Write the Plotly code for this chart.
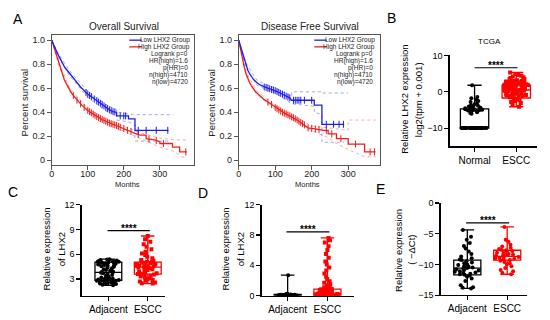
import numpy as np
import plotly.graph_objects as go

W, H = 550, 320
def px(x): return x / W
def py(y): return 1 - y / H

FONT = "Liberation Sans, Arial, sans-serif"
BLUE = "rgb(30,30,235)"
RED = "rgb(238,30,30)"
BLUE_CI = "rgba(90,90,235,0.55)"
RED_CI = "rgba(238,70,70,0.45)"
PR_RED = "rgb(255,0,0)"

# ---------------- Panel A : Kaplan-Meier data ----------------
os_low_t = [0,5,10,15,20,25,30,35,40,45,50,55,60,65,70,75,80,85,90,95,100,110,120,130,140,150,160,170,180,180,213,213,231,231,324]
os_low_s = [1.0,0.97,0.93,0.895,0.865,0.835,0.805,0.78,0.76,0.74,0.72,0.70,0.68,0.665,0.65,0.63,0.61,0.595,0.58,0.565,0.55,0.53,0.505,0.485,0.465,0.44,0.42,0.405,0.40,0.37,0.37,0.345,0.345,0.25,0.25]
os_low_up_t = [0,20,50,100,150,180,180,231,337]
os_low_up_s = [1.0,0.88,0.745,0.575,0.465,0.42,0.40,0.38,0.38]
os_low_lo_t = [0,20,50,100,150,180,180,213,231,231,324]
os_low_lo_s = [1.0,0.85,0.70,0.525,0.41,0.385,0.335,0.32,0.30,0.16,0.16]
os_low_cens = [95,100,105,110,118,125,130,135,140,145,150,155,160,165,170,175,190,200,205,240,262,290,322]

os_high_t = [0,5,10,15,20,25,30,35,40,45,50,55,60,65,70,75,80,85,90,95,100,110,120,130,140,150,160,170,180,190,200,210,220,230,245,262,262,285,300,300,335,335,355,355,375]
os_high_s = [1.0,0.95,0.90,0.85,0.80,0.755,0.71,0.67,0.64,0.61,0.585,0.56,0.54,0.52,0.50,0.485,0.47,0.455,0.44,0.43,0.415,0.395,0.375,0.355,0.34,0.325,0.31,0.30,0.29,0.275,0.265,0.25,0.24,0.225,0.21,0.21,0.18,0.17,0.155,0.14,0.14,0.11,0.11,0.07,0.07]
os_high_up_t = [0,20,50,100,150,200,250,300,340,380]
os_high_up_s = [1.0,0.815,0.60,0.43,0.34,0.285,0.225,0.185,0.17,0.17]
os_high_lo_t = [0,20,50,100,150,200,250,300,340,360,375]
os_high_lo_s = [1.0,0.785,0.57,0.40,0.31,0.245,0.175,0.11,0.075,0.03,0.02]
os_high_cens = [60,70,80,90,100,105,110,115,120,125,130,135,140,145,150,155,160,165,170,175,180,185,190,200,210,220,240,270,290,310,372]

dfs_low_t = [0,5,10,15,20,25,30,35,40,45,50,60,70,80,90,100,110,120,130,140,145,207,207,228,228,289]
dfs_low_s = [1.0,0.95,0.88,0.83,0.79,0.75,0.72,0.695,0.675,0.66,0.645,0.625,0.61,0.60,0.59,0.58,0.565,0.55,0.535,0.52,0.50,0.50,0.46,0.46,0.30,0.30]
dfs_low_up_t = [0,20,50,100,145,145,228,228,300]
dfs_low_up_s = [1.0,0.81,0.665,0.60,0.53,0.57,0.57,0.56,0.56]
dfs_low_lo_t = [0,20,50,100,145,207,207,228,228,289]
dfs_low_lo_s = [1.0,0.77,0.625,0.56,0.47,0.45,0.40,0.38,0.15,0.15]
dfs_low_cens = [70,75,80,85,90,95,100,105,110,115,120,125,130,135,140,150,155,160,165,170,180,200,240,260,275,287]

dfs_high_t = [0,5,10,15,20,25,30,35,40,45,50,60,70,80,90,100,110,120,130,140,150,160,170,180,190,214,232,245,245,268,268,300,300,345,345,375]
dfs_high_s = [1.0,0.92,0.85,0.78,0.72,0.68,0.645,0.62,0.595,0.575,0.56,0.53,0.505,0.485,0.465,0.44,0.42,0.40,0.385,0.37,0.355,0.335,0.315,0.295,0.27,0.26,0.25,0.25,0.22,0.22,0.18,0.18,0.135,0.135,0.07,0.07]
dfs_high_up_t = [0,20,50,100,150,200,245,268,300,300,375]
dfs_high_up_s = [1.0,0.735,0.575,0.455,0.37,0.285,0.27,0.26,0.25,0.335,0.335]
dfs_high_lo_t = [0,20,50,100,150,200,245,268,300,345,375]
dfs_high_lo_s = [1.0,0.705,0.545,0.425,0.34,0.245,0.19,0.14,0.09,0.03,0.03]
dfs_high_cens = [80,90,100,105,110,115,120,125,130,135,140,145,150,155,160,165,170,175,180,190,200,210,220,240,255,280,320,360,372]

km_stats = ["Logrank p=0", "HR(high)=1.6", "p(HR)=0", "n(high)=4710", "n(low)=4720"]

# ---------------- Panel B : TCGA ----------------
b_cats = ["Normal", "ESCC"]
b_normal = [-9.97]*28 + [-6.0,-5.8,-5.6,-5.5,-5.4,-5.3,-5.2,-5.1,-5.0,-5.0,-4.9,-4.8,-4.8,-4.7,-4.6,-4.5,-4.4,-4.3,-4.2,-4.0,-3.8,-3.6,-3.4,-3.1,-2.8,-2.5,-2.2,-1.8,-1.4,1.8]
b_escc = [5.3,4.9,4.6,4.4,4.2,4.0,3.8,3.6,3.5,3.3,3.2,3.0,2.9,2.8,2.7,2.6,2.5,2.4,2.3,2.2,2.1,2.0,1.9,1.8,1.7,1.6,1.5,1.4,1.3,1.2,1.1,1.0,0.9,0.8,0.7,0.6,0.5,0.4,0.3,0.2,0.1,0.0,-0.1,-0.2,-0.3,-0.4,-0.5,-0.6,-0.7,-0.8,-0.9,-1.0,-1.1,-1.2,-1.4,-1.5,-1.7,-1.9,-2.1,-2.3,-2.5,-2.8,-3.1,-3.5,-4.1,
          1.5,1.0,0.5,0.0,2.0,2.5,-0.5,1.2,0.8,0.3,3.0,-1.0,1.8,2.2,0.6]
b_stats_normal = dict(q1=-9.97, med=-9.97, q3=-4.7, lo=-9.97, hi=1.8)
b_stats_escc = dict(q1=-1.7, med=0.5, q3=1.8, lo=-4.1, hi=5.3)

# ---------------- Panel C ----------------
cde_cats = ["Adjacent", "ESCC"]
c_adj = [2.25,2.3,2.4,2.45,2.5,2.55,2.6,2.6,2.65,2.7,2.7,2.75,2.8,2.8,2.85,2.9,2.9,2.95,3.0,3.0,3.05,3.1,3.15,3.2,3.3,3.4,3.5,3.6,3.7,3.75,3.8,3.85,3.9,4.0,4.1,4.2,4.3,4.4,4.5,4.55,4.6,4.65,4.7,4.75,4.8,4.85,4.9,4.9,4.95,5.0,5.0,5.05,5.1,5.1,5.15,5.2,5.25,5.3,5.35,5.4]
c_esc = [2.45,2.5,2.6,2.7,2.8,2.9,3.0,3.1,3.2,3.3,3.4,3.5,3.55,3.6,3.65,3.7,3.8,3.9,4.0,4.1,4.2,4.3,4.35,4.4,4.45,4.5,4.55,4.6,4.65,4.7,4.75,4.8,4.85,4.9,4.95,5.0,5.05,5.1,5.2,5.3,5.5,5.7,5.9,6.1,6.3,6.6,6.9,7.2,7.5,7.8,8.2]
c_stats_adj = dict(q1=2.85, med=3.8, q3=5.05, lo=2.25, hi=5.4)
c_stats_esc = dict(q1=3.6, med=4.45, q3=5.05, lo=2.45, hi=8.2)

# ---------------- Panel D ----------------
d_adj = [0.0,0.0,0.01,0.01,0.02,0.02,0.03,0.03,0.04,0.05,0.05,0.06,0.07,0.08,0.09,0.1,0.11,0.12,0.13,0.14,0.15,0.16,0.18,0.2,0.22,0.25,2.7]
d_esc = [0.0,0.01,0.02,0.03,0.04,0.05,0.06,0.07,0.08,0.1,0.12,0.14,0.16,0.18,0.2,0.22,0.25,0.28,0.3,0.33,0.36,0.4,0.44,0.48,0.52,0.56,0.6,0.65,0.7,0.75,0.8,0.85,0.9,0.95,1.0,1.1,1.2,1.35,1.5,1.7,1.9,2.2,2.5,2.9,3.3,3.7,4.1,4.5,5.0,5.5,6.0,6.5,7.0,7.3,7.6]
d_stats_adj = dict(q1=0.0, med=0.05, q3=0.15, lo=0.0, hi=2.7)
d_stats_esc = dict(q1=0.05, med=0.25, q3=0.85, lo=0.0, hi=7.6)

# ---------------- Panel E ----------------
e_adj = [-4.4,-5.5,-6.0,-6.5,-7.0,-7.4,-7.9,-8.3,-8.7,-9.0,-9.2,-9.3,-9.5,-9.7,-9.8,-10.0,-10.1,-10.3,-10.4,-10.5,-10.6,-10.7,-10.8,-10.9,-11.0,-11.1,-11.2,-11.3,-11.4,-11.5,-11.6,-11.7,-11.8,-12.0,-12.3,-12.7,-13.4,-13.7,-13.8,-13.9]
e_esc = [-3.9,-6.0,-6.3,-6.8,-7.1,-7.3,-7.5,-7.6,-7.7,-7.8,-7.9,-8.0,-8.1,-8.2,-8.3,-8.4,-8.5,-8.6,-8.6,-8.7,-8.8,-8.9,-9.0,-9.1,-9.2,-9.3,-9.4,-9.6,-9.8,-10.0,-10.3,-10.6,-10.9,-11.1,-11.4,-11.6]
e_stats_adj = dict(q1=-11.7, med=-10.6, q3=-9.3, lo=-13.9, hi=-4.4)
e_stats_esc = dict(q1=-9.3, med=-8.7, q3=-7.7, lo=-11.6, hi=-3.9)

fig = go.Figure()

def km(t, s, color, xa, ya, dash=None, width=1.3):
    fig.add_trace(go.Scatter(x=t, y=s, mode="lines", line=dict(color=color, width=width, dash=dash),
                             xaxis=xa, yaxis=ya, showlegend=False, hoverinfo="skip"))

def cens(ts, ss, c, color, xa, ya):
    fig.add_trace(go.Scatter(x=c, y=np.interp(c, ts, ss), mode="markers",
                             marker=dict(symbol="line-ns", size=5, line=dict(color=color, width=1)),
                             xaxis=xa, yaxis=ya, showlegend=False, hoverinfo="skip"))

for xa, ya, lt, ls, lut, lus, llt, lls, lc, ht, hs, hut, hus, hlt, hls, hc in [
    ("x", "y", os_low_t, os_low_s, os_low_up_t, os_low_up_s, os_low_lo_t, os_low_lo_s, os_low_cens,
     os_high_t, os_high_s, os_high_up_t, os_high_up_s, os_high_lo_t, os_high_lo_s, os_high_cens),
    ("x2", "y2", dfs_low_t, dfs_low_s, dfs_low_up_t, dfs_low_up_s, dfs_low_lo_t, dfs_low_lo_s, dfs_low_cens,
     dfs_high_t, dfs_high_s, dfs_high_up_t, dfs_high_up_s, dfs_high_lo_t, dfs_high_lo_s, dfs_high_cens)]:
    km(hut, hus, RED_CI, xa, ya, "dot", 1)
    km(hlt, hls, RED_CI, xa, ya, "dot", 1)
    km(lut, lus, BLUE_CI, xa, ya, "dot", 1)
    km(llt, lls, BLUE_CI, xa, ya, "dot", 1)
    km(ht, hs, RED, xa, ya)
    km(lt, ls, BLUE, xa, ya)
    cens(ht, hs, hc, RED, xa, ya)
    cens(lt, ls, lc, BLUE, xa, ya)

BOXW = 0.68
def box_panel(xa, ya, groups):
    for i, (vals, st, color, sym) in enumerate(groups):
        fig.add_trace(go.Box(x=[i], q1=[st["q1"]], median=[st["med"]], q3=[st["q3"]],
                             lowerfence=[st["lo"]], upperfence=[st["hi"]], width=BOXW,
                             line=dict(color=color, width=1.3), fillcolor="rgba(0,0,0,0)",
                             whiskerwidth=0.5, boxpoints=False, xaxis=xa, yaxis=ya,
                             showlegend=False, hoverinfo="skip"))
    for i, (vals, st, color, sym) in enumerate(groups):
        fig.add_trace(go.Box(x=[i] * len(vals), y=vals, boxpoints="all", jitter=0.95, pointpos=0,
                             width=BOXW, line=dict(color="rgba(0,0,0,0)", width=0),
                             fillcolor="rgba(0,0,0,0)", marker=dict(color=color, size=4, symbol=sym),
                             xaxis=xa, yaxis=ya, showlegend=False, hoverinfo="skip"))

box_panel("x3", "y3", [(b_normal, b_stats_normal, "black", "circle"), (b_escc, b_stats_escc, PR_RED, "square")])
box_panel("x4", "y4", [(c_adj, c_stats_adj, "black", "circle"), (c_esc, c_stats_esc, PR_RED, "square")])
box_panel("x5", "y5", [(d_adj, d_stats_adj, "black", "circle"), (d_esc, d_stats_esc, PR_RED, "square")])
box_panel("x6", "y6", [(e_adj, e_stats_adj, "black", "circle"), (e_esc, e_stats_esc, PR_RED, "circle")])

# ---------------- axes ----------------
km_ax = dict(showline=True, mirror=True, linecolor="#555", linewidth=1, ticks="outside", ticklen=4,
             tickcolor="#555", showgrid=False, zeroline=False, tickfont=dict(family=FONT, size=9, color="#222"))
km_x = dict(km_ax, tickvals=[0, 100, 200, 300], ticklabelstandoff=-3)
km_y = dict(km_ax, range=[-0.035, 1.04], tickvals=[0, 0.2, 0.4, 0.6, 0.8, 1.0],
            ticktext=["0", "0.2", "0.4", "0.6", "0.8", "1.0"])
pr_ax = dict(showline=True, linecolor="black", linewidth=1.2, ticks="outside", ticklen=4, tickwidth=1.2,
             tickcolor="black", showgrid=False, zeroline=False, tickfont=dict(family=FONT, size=9, color="black"))
pr_x = dict(pr_ax, tickvals=[0, 1], tickfont=dict(family=FONT, size=10, color="black"))

fig.update_layout(
    width=W, height=H, margin=dict(l=0, r=0, t=0, b=0), paper_bgcolor="white", plot_bgcolor="white",
    boxmode="overlay", showlegend=False,
    xaxis=dict(km_x, domain=[px(49), px(192.5)], range=[0, 396], anchor="y"),
    yaxis=dict(km_y, domain=[py(164.7), py(31.3)], anchor="x"),
    xaxis2=dict(km_x, domain=[px(237), px(379)], range=[0, 387], anchor="y2"),
    yaxis2=dict(km_y, domain=[py(164.7), py(31.3)], anchor="x2"),
    xaxis3=dict(pr_x, domain=[px(449), px(537)], range=[-0.6, 1.5], ticktext=b_cats, anchor="y3"),
    yaxis3=dict(pr_ax, domain=[py(146), py(52)], range=[-15, 10], tickvals=[-10, 0, 10], anchor="x3"),
    xaxis4=dict(pr_x, domain=[px(79), px(163)], range=[-0.68, 1.44], ticktext=cde_cats, anchor="y4"),
    yaxis4=dict(pr_ax, domain=[py(300), py(206)], range=[1, 12], tickvals=[3, 6, 9, 12], anchor="x4"),
    xaxis5=dict(pr_x, domain=[px(260), px(353)], range=[-0.655, 1.67], ticktext=cde_cats, anchor="y5"),
    yaxis5=dict(pr_ax, domain=[py(300), py(206)], range=[0, 12], tickvals=[0, 4, 8, 12], anchor="x5"),
    xaxis6=dict(pr_x, domain=[px(440), px(527)], range=[-0.67, 1.5], ticktext=cde_cats, anchor="y6"),
    yaxis6=dict(pr_ax, domain=[py(299.5), py(204.3)], range=[-15, 0], tickvals=[-15, -10, -5, 0], anchor="x6"),
)

ann = []
def text(x, y, s, size, color="black", angle=0, xanchor="center", yanchor="middle", family=FONT):
    ann.append(dict(x=px(x), y=py(y), xref="paper", yref="paper", text=s, showarrow=False, textangle=angle,
                    xanchor=xanchor, yanchor=yanchor, font=dict(family=family, size=size, color=color)))

# panel letters
for L, x, y in [("A", 14.7, 14.2), ("B", 390.3, 13.8), ("C", 10, 193), ("D", 201, 194), ("E", 380, 190)]:
    text(x, y, L, 14)

# KM titles/labels
text(122, 22, "Overall Survival", 10, "#222")
text(309, 22.3, "Disease Free Survival", 10, "#222")
text(21.7, 101, "Percent survival", 9.5, "#222", angle=-90)
text(210, 101, "Percent survival", 9.5, "#222", angle=-90)
text(125.5, 185, "Months", 7.5, "#222")
text(306, 185, "Months", 7.5, "#222")

shapes = []
for off in [0, 186]:
    for j, (lbl, col) in enumerate([("Low LHX2 Group", BLUE), ("High LHX2 Group", RED)]):
        yy = 36.3 + j * 6.9
        shapes.append(dict(type="line", xref="paper", yref="paper", x0=px(127 + off), x1=px(139.5 + off),
                           y0=py(yy), y1=py(yy), line=dict(color=col, width=1.3)))
        text(190.5 + off, yy, lbl, 6.5, "#222", xanchor="right")
    for j, s in enumerate(km_stats):
        text(188.5 + off, 50.7 + j * 7.1, s, 6.5, "#222", xanchor="right")

# Prism titles
text(489, 38, "TCGA", 8)
text(403.5, 97.5, "Relative LHX2 expression", 9.5, angle=-90)
text(418, 97.5, "log2(tpm + 0.001)", 9.5, angle=-90)
for xc in [43.5, 223.5]:
    text(xc, 252, "Relative expression", 9.5, angle=-90)
    text(xc + 15, 252, "of LHX2", 9.5, angle=-90)
text(397, 253, "Relative expression", 9.5, angle=-90)
text(410, 253, "( \u2212\u0394Ct)", 9.5, angle=-90)

# significance bars
for xa, ya, x0, x1, yv in [("x3", "y3", 0.0, 1.03, 6.6), ("x4", "y4", -0.02, 1.05, 8.85),
                           ("x5", "y5", -0.03, 1.05, 8.4), ("x6", "y6", -0.03, 1.05, -3.25)]:
    shapes.append(dict(type="line", xref=xa, yref=ya, x0=x0, x1=x1, y0=yv, y1=yv,
                       line=dict(color="black", width=1.2)))
    ann.append(dict(x=(x0 + x1) / 2, y=yv, xref=xa, yref=ya, text="<b>****</b>", showarrow=False,
                    yanchor="bottom", yshift=-5, font=dict(family=FONT, size=10, color="black")))

fig.update_layout(annotations=ann, shapes=shapes)
fig.write_html("out.html", config={"displayModeBar": False, "staticPlot": True},
               post_script="document.body.style.margin='0px';document.body.style.overflow='hidden';")
